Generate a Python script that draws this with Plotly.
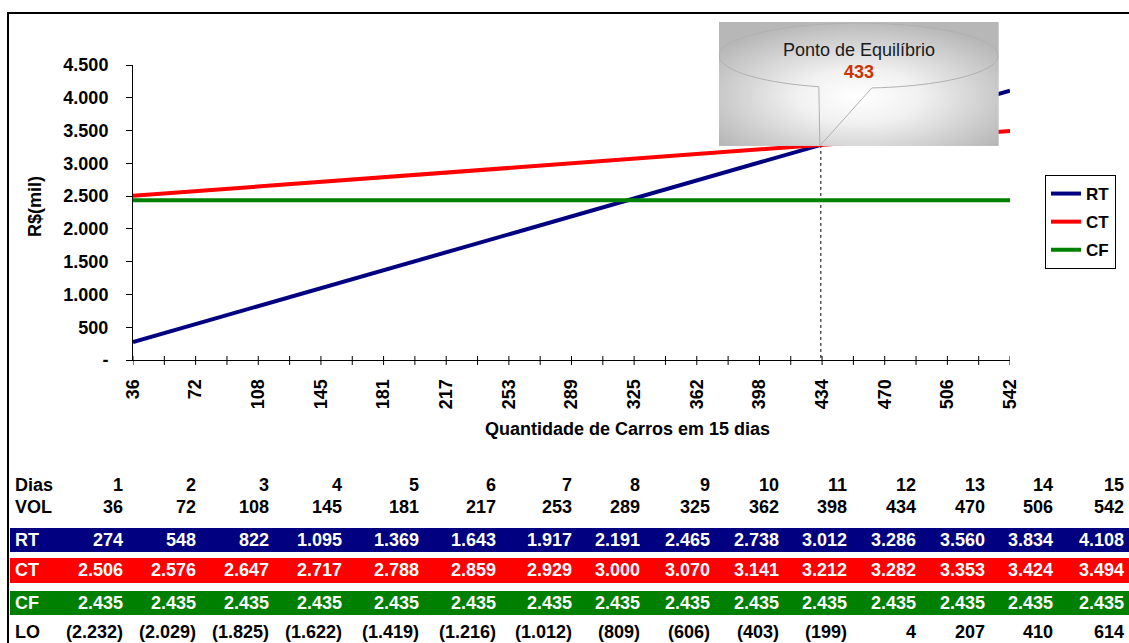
import base64
import plotly.graph_objects as go

# ---- data -------------------------------------------------------------
dias = list(range(1, 16))
vol = [36, 72, 108, 145, 181, 217, 253, 289, 325, 362, 398, 434, 470, 506, 542]
rt = [274, 548, 822, 1095, 1369, 1643, 1917, 2191, 2465, 2738, 3012, 3286, 3560, 3834, 4108]
ct = [2506, 2576, 2647, 2717, 2788, 2859, 2929, 3000, 3070, 3141, 3212, 3282, 3353, 3424, 3494]
cf = [2435] * 15
lo = [-2232, -2029, -1825, -1622, -1419, -1216, -1012, -809, -606, -403, -199, 4, 207, 410, 614]
y_ticks = [0, 500, 1000, 1500, 2000, 2500, 3000, 3500, 4000, 4500]

NAVY, RED, GREEN = "#000080", "#FF0000", "#008000"
FONT = "Arial, Liberation Sans, sans-serif"

# ---- page geometry (pixels) ------------------------------------------
W, H = 1129, 643
PL, PR, PT, PB = 133, 1010, 65, 360   # plot area edges
YMAX = 4500
NCAT = len(vol) - 1


def px(x):
    return (x - PL) / (PR - PL)


def py(y):
    return (PB - y) / (PB - PT)


def fmt(v):
    s = f"{abs(v):,.0f}".replace(",", ".")
    return f"({s})" if v < 0 else s


idx = list(range(len(vol)))

# ---- break-even point (where RT crosses CT) ----------------------------
diff = [a - b for a, b in zip(rt, ct)]
k = next(i for i in range(len(diff) - 1) if diff[i] < 0 <= diff[i + 1])
t = -diff[k] / (diff[k + 1] - diff[k])
x_be = k + t
y_be = rt[k] + t * (rt[k + 1] - rt[k])
vol_be = vol[k] + t * (vol[k + 1] - vol[k])

fig = go.Figure()

# dotted drop line from the break-even point
fig.add_trace(go.Scatter(
    x=[x_be, x_be], y=[y_be, 0], mode="lines",
    line=dict(color="black", width=1, dash="dot"),
    showlegend=False, hoverinfo="skip"))

for name, vals, col in [("RT", rt, NAVY), ("CT", ct, RED), ("CF", cf, GREEN)]:
    fig.add_trace(go.Scatter(
        x=idx, y=vals, mode="lines", name=name, legendgroup=name,
        line=dict(color=col, width=4)))

# ---- callout bubble ----------------------------------------------------
tip_x = PL + x_be * (PR - PL) / NCAT
tip_y = PB - y_be * (PB - PT) / YMAX
bw, bh = 280, 124
bx0 = tip_x - 102
by0 = tip_y - bh + 1
svg = (
    f'<svg xmlns="http://www.w3.org/2000/svg" width="{bw}" height="{bh}" '
    f'viewBox="0 0 {bw} {bh}" preserveAspectRatio="none">'
    '<defs><radialGradient id="g" cx="0.5" cy="0.6" r="0.62">'
    '<stop offset="0" stop-color="#ffffff"/>'
    '<stop offset="0.35" stop-color="#f1f1f1"/>'
    '<stop offset="0.7" stop-color="#d2d2d2"/>'
    '<stop offset="1" stop-color="#b7b7b7"/>'
    '</radialGradient></defs>'
    f'<rect width="{bw}" height="{bh}" fill="url(#g)"/>'
    '<path d="M 100 64.8 A 139.5 32.5 0 1 1 153 66 L 101 124 Z" '
    'fill="none" stroke="#b0b0b0" stroke-width="1"/>'
    '</svg>'
)
src = "data:image/svg+xml;base64," + base64.b64encode(svg.encode()).decode()
fig.add_layout_image(dict(
    source=src, xref="paper", yref="paper",
    x=px(bx0), y=py(by0), sizex=bw / (PR - PL), sizey=bh / (PB - PT),
    xanchor="left", yanchor="top", sizing="stretch", layer="above"))

annotations = [
    dict(text="Ponto de Equilíbrio", x=px(bx0 + 140), y=py(by0 + 28),
         font=dict(family=FONT, size=18, color="#1a1a1a")),
    dict(text=f"{vol_be:.0f}", x=px(bx0 + 140), y=py(by0 + 50),
         font=dict(family=FONT, size=18, color="#CC3300", weight="bold")),
    dict(text="R$(mil)", x=px(35), y=py(207), textangle=-90,
         font=dict(family=FONT, size=18, color="black", weight="bold")),
    dict(text="Quantidade de Carros em 15 dias", x=px(627), y=py(429),
         font=dict(family=FONT, size=18, color="black", weight="bold")),
]

# ---- data table under the chart ---------------------------------------
col_right = [124, 197, 270, 343, 420, 497, 573, 641, 711, 780, 848, 917, 986, 1054, 1125]
rows = [
    ("Dias", [str(d) for d in dias], None, 485),
    ("VOL", [str(v) for v in vol], None, 507),
    ("RT", [fmt(v) for v in rt], NAVY, 540),
    ("CT", [fmt(v) for v in ct], RED, 570),
    ("CF", [fmt(v) for v in cf], GREEN, 603),
    ("LO", [fmt(v) for v in lo], None, 632),
]
bands = {"RT": (528, 552), "CT": (558, 583), "CF": (591, 615)}

shapes = []
for label, cells, band, yc in rows:
    tcol = "white" if band else "black"
    if band:
        y0, y1 = bands[label]
        shapes.append(dict(type="rect", xref="paper", yref="paper",
                           x0=px(10), x1=px(W), y0=py(y1), y1=py(y0),
                           fillcolor=band, line=dict(width=0), layer="below"))
    annotations.append(dict(text=label, x=px(13), y=py(yc), xanchor="left",
                            font=dict(family=FONT, size=18, color=tcol, weight="bold")))
    for xr, txt in zip(col_right, cells):
        annotations.append(dict(text=txt, x=px(xr + 1), y=py(yc), xanchor="right",
                                font=dict(family=FONT, size=18, color=tcol, weight="bold")))

for a in annotations:
    a.setdefault("xref", "paper")
    a.setdefault("yref", "paper")
    a.setdefault("showarrow", False)
    a.setdefault("yanchor", "middle")
    a.setdefault("xanchor", "center")

# x-axis ticks crossing the axis line, at every half category
for i in range(2 * NCAT + 1):
    shapes.append(dict(type="line", xref="x", yref="paper", x0=i / 2, x1=i / 2,
                       y0=-5 / (PB - PT), y1=4 / (PB - PT),
                       line=dict(color="black", width=1)))

# outer frame
shapes.append(dict(type="line", xref="paper", yref="paper",
                   x0=px(7), x1=px(W), y0=py(13), y1=py(13),
                   line=dict(color="black", width=2)))
shapes.append(dict(type="line", xref="paper", yref="paper",
                   x0=px(8), x1=px(8), y0=py(13), y1=py(H),
                   line=dict(color="black", width=2)))

fig.update_layout(
    template="none",
    width=W, height=H, autosize=False,
    margin=dict(l=PL, r=W - PR, t=PT, b=H - PB, pad=0),
    paper_bgcolor="white", plot_bgcolor="white",
    showlegend=True,
    legend=dict(x=px(1045), y=py(175), xanchor="left", yanchor="top",
                bgcolor="white", bordercolor="black", borderwidth=1,
                font=dict(family=FONT, size=17, color="black", weight="bold"),
                traceorder="grouped", tracegroupgap=3),
    xaxis=dict(range=[0, NCAT], showgrid=False, zeroline=False,
               showline=True, linecolor="black", linewidth=1,
               tickmode="array", tickvals=idx, ticktext=[str(v) for v in vol],
               ticks="", tickangle=-90, ticklabelstandoff=11,
               tickfont=dict(family=FONT, size=18, color="black", weight="bold"),
               automargin=False, fixedrange=True),
    yaxis=dict(range=[0, YMAX], showgrid=False, zeroline=False,
               showline=True, linecolor="black", linewidth=1,
               tickmode="array", tickvals=y_ticks,
               ticktext=["-" if v == 0 else fmt(v) for v in y_ticks],
               ticks="outside", ticklen=6, tickcolor="black",
               ticklabelstandoff=14,
               tickfont=dict(family=FONT, size=18, color="black", weight="bold"),
               automargin=False, fixedrange=True),
    annotations=annotations,
    shapes=shapes,
)

fig.write_html("out.html")
